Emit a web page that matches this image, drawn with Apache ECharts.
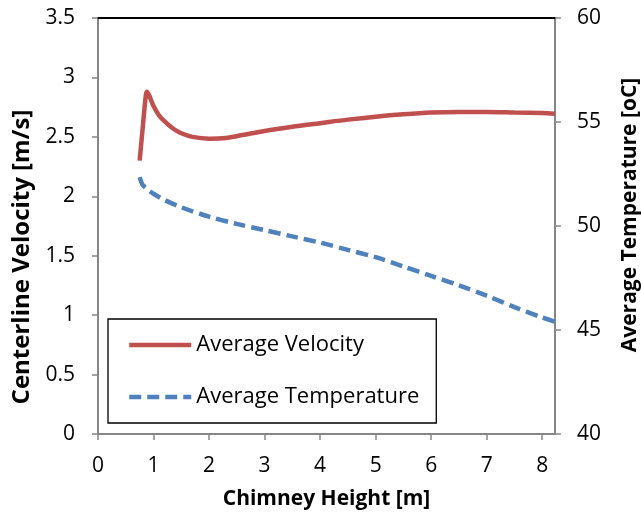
<!DOCTYPE html>
<html><head><meta charset="utf-8">
<script src="https://cdn.jsdelivr.net/npm/echarts@6/dist/echarts.min.js"></script>
<style>html,body{margin:0;padding:0;background:#fff}#c{width:641px;height:515px}</style>
</head><body><div id="c"></div>
<script>
const velX = [0.75,0.8,0.85,0.88,0.92,1.0,1.1,1.2,1.35,1.5,1.7,2.0,2.3,2.6,3.0,3.5,4.0,4.5,5.0,5.5,6.0,6.5,7.0,7.5,8.0,8.23];
const velY = [2.30,2.55,2.80,2.88,2.85,2.76,2.68,2.63,2.57,2.53,2.50,2.485,2.49,2.515,2.55,2.585,2.615,2.645,2.67,2.69,2.705,2.71,2.71,2.705,2.70,2.695];
const tempX = [0.75,0.8,0.9,1.0,1.2,1.5,2.0,2.5,3.0,3.5,4.0,4.5,5.0,5.5,6.0,6.5,7.0,7.5,8.0,8.23];
const tempY = [52.35,52.0,51.75,51.55,51.25,50.9,50.45,50.1,49.8,49.5,49.2,48.85,48.5,48.05,47.6,47.15,46.65,46.1,45.6,45.4];
const seriesNames = ['Average Velocity','Average Temperature'];
const xName = 'Chimney Height [m]';
const yLeftName = 'Centerline Velocity [m/s]';
const yRightName = 'Average Temperature [oC]';

const font = 'Open Sans, Noto Sans, sans-serif';
const chart = echarts.init(document.getElementById('c'));
const axisGray = '#868686';
const tickLabel = {fontFamily: font, fontSize: 21, color: '#000'};
const nameStyle = {fontFamily: font, fontSize: 21, fontWeight: 'bold', color: '#000'};
chart.setOption({
  animation: false,
  grid: {left: 98, right: 86, top: 18, bottom: 81, outerBoundsMode: 'none', containLabel: false},
  legend: {
    orient: 'vertical', left: 108, top: 319,
    data: seriesNames,
    itemWidth: 62, itemHeight: 22, itemGap: 30,
    padding: [15, 17, 15, 19],
    borderColor: '#000', borderWidth: 1.3,
    itemStyle: {opacity: 0},
    lineStyle: {width: 4.5},
    textStyle: {fontFamily: font, fontSize: 22, color: '#000', lineHeight: 22},
  },
  xAxis: [{
    type: 'value', min: 0, max: 8.23, interval: 1,
    name: xName, nameLocation: 'middle', nameGap: 55,
    nameTextStyle: nameStyle,
    axisLine: {show: true, onZero: false, lineStyle: {color: axisGray, width: 2}},
    axisTick: {show: true, length: 6, lineStyle: {color: axisGray, width: 1.5}},
    axisLabel: Object.assign({margin: 22, showMaxLabel: false}, tickLabel),
    splitLine: {show: false}
  },{
    type: 'value', position: 'top', min: 0, max: 8.23,
    axisLine: {show: true, onZero: false, lineStyle: {color: '#000', width: 2}},
    axisTick: {show: false}, axisLabel: {show: false}, splitLine: {show: false}
  }],
  yAxis: [{
    type: 'value', min: 0, max: 3.5, interval: 0.5, position: 'left',
    name: yLeftName, nameLocation: 'middle', nameGap: 61, nameRotate: 90,
    nameTextStyle: Object.assign({}, nameStyle, {fontSize: 24, padding: [0, 62, 0, 0]}),
    axisLine: {show: true, onZero: false, lineStyle: {color: axisGray, width: 2}},
    axisTick: {show: true, length: 6, lineStyle: {color: axisGray, width: 1.5}},
    axisLabel: Object.assign({margin: 23}, tickLabel),
    splitLine: {show: false}
  },{
    type: 'value', min: 40, max: 60, interval: 5, position: 'right',
    name: yRightName, nameLocation: 'middle', nameGap: 65, nameRotate: 90,
    nameTextStyle: Object.assign({}, nameStyle, {padding: [0, 0, 0, 22]}),
    axisLine: {show: true, onZero: false, lineStyle: {color: axisGray, width: 2}},
    axisTick: {show: true, length: 6, lineStyle: {color: axisGray, width: 1.5}},
    axisLabel: Object.assign({margin: 22}, tickLabel),
    splitLine: {show: false}
  }],
  series: [{
    name: seriesNames[0], type: 'line', xAxisIndex: 0, yAxisIndex: 0,
    data: velX.map((x,i)=>[x, velY[i]]),
    smooth: 0.3, symbol: 'none', color: '#C0504D',
    lineStyle: {color: '#C0504D', width: 4.5}
  },{
    name: seriesNames[1], type: 'line', xAxisIndex: 0, yAxisIndex: 1,
    data: tempX.map((x,i)=>[x, tempY[i]]),
    smooth: 0.3, symbol: 'none', color: '#4F81BD',
    lineStyle: {color: '#4F81BD', width: 4.5, type: [12, 6]}
  }]
});
</script></body></html>
